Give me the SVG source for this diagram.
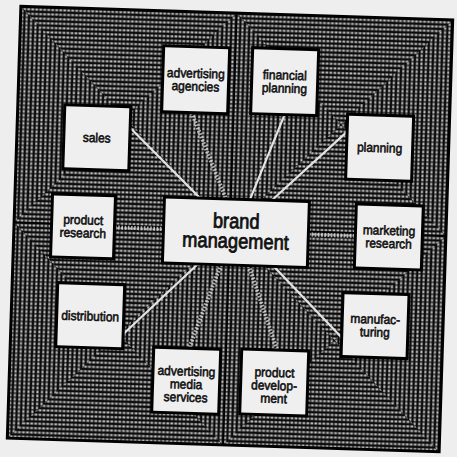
<svg xmlns="http://www.w3.org/2000/svg" width="457" height="457" viewBox="0 0 457 457">
<defs>
<pattern id="ph" width="4" height="4.5" patternUnits="userSpaceOnUse"><rect width="4" height="4.5" fill="#0c0c0c"/><rect x="0.5" y="1.2" width="2.8" height="2" fill="#c0c0c0"/></pattern>
<pattern id="pv" width="4.5" height="4" patternUnits="userSpaceOnUse"><rect width="4.5" height="4" fill="#0c0c0c"/><rect x="1.2" y="0.5" width="2" height="2.8" fill="#c0c0c0"/></pattern>
<style>
.box{fill:#efefef;stroke:#000;stroke-width:3}
.t{font-family:"Liberation Sans",Arial,sans-serif;font-size:13px;fill:#111;stroke:#111;stroke-width:0.6;text-anchor:middle}
.tb{font-family:"Liberation Sans",Arial,sans-serif;font-size:21px;fill:#111;stroke:#111;stroke-width:0.8;text-anchor:middle}
.solid{stroke:#e4e4e4;stroke-width:2.2;fill:none}
.hatch{stroke:#d8d8d8;stroke-width:4;stroke-dasharray:1.6 1.6;fill:none;opacity:0.8}
</style>
</defs>
<rect width="457" height="457" fill="#eeeeee"/>
<g transform="rotate(1.8 230 229)">
<g id="background">
<rect x="14" y="13" width="432" height="432" fill="url(#ph)"/>
<path d="M14 13 L14 229 L122 121 Z M230 13 L230 229 L122 121 Z M230 13 L230 229 L338 121 Z M446 13 L446 229 L338 121 Z M14 229 L14 445 L122 337 Z M230 229 L230 445 L122 337 Z M230 229 L230 445 L338 337 Z M446 229 L446 445 L338 337 Z" fill="url(#pv)"/>
<path d="M230 13 V445 M14 229 H446" stroke="#000" stroke-width="1.5"/>
<rect x="14" y="13" width="432" height="432" fill="none" stroke="#000" stroke-width="3"/>
</g>
<g id="connectors">
<line class="solid" x1="127" y1="131" x2="199" y2="199"/>
<line class="solid" x1="281" y1="113" x2="249" y2="199"/>
<line class="solid" x1="344" y1="128" x2="271" y2="199"/>
<line class="solid" x1="275" y1="265" x2="345" y2="334"/>
<line class="solid" x1="199" y1="265" x2="127" y2="337"/>
<line class="hatch" x1="188" y1="114" x2="225" y2="199"/>
<line class="hatch" x1="250" y1="265" x2="281" y2="349"/>
<line class="hatch" x1="222" y1="265" x2="193" y2="349"/>
<line class="hatch" x1="308.5" y1="232" x2="355.5" y2="232"/>
<line class="hatch" x1="115" y1="231" x2="163.5" y2="231"/>
</g>
<g id="sales"><rect class="box" x="61" y="110" width="66" height="64"/><text class="t" x="94" y="146.5" textLength="27.9" lengthAdjust="spacingAndGlyphs">sales</text></g>
<g id="advertising-agencies"><rect class="box" x="158" y="48" width="66" height="66"/><text class="t" x="191" y="79" textLength="57.8" lengthAdjust="spacingAndGlyphs">advertising</text><text class="t" x="191" y="92" textLength="47.9" lengthAdjust="spacingAndGlyphs">agencies</text></g>
<g id="financial-planning"><rect class="box" x="247" y="47" width="66" height="66"/><text class="t" x="280" y="78" textLength="43.9" lengthAdjust="spacingAndGlyphs">financial</text><text class="t" x="280" y="91" textLength="45.2" lengthAdjust="spacingAndGlyphs">planning</text></g>
<g id="planning"><rect class="box" x="344" y="110.5" width="66" height="65"/><text class="t" x="377" y="147.5" textLength="45.2" lengthAdjust="spacingAndGlyphs">planning</text></g>
<g id="marketing-research"><rect class="box" x="355.5" y="200" width="67" height="64"/><text class="t" x="389" y="230" textLength="52.5" lengthAdjust="spacingAndGlyphs">marketing</text><text class="t" x="389" y="243" textLength="46.5" lengthAdjust="spacingAndGlyphs">research</text></g>
<g id="manufacturing"><rect class="box" x="345" y="289" width="66" height="64"/><text class="t" x="378" y="319" textLength="49.8" lengthAdjust="spacingAndGlyphs">manufac-</text><text class="t" x="378" y="332" textLength="29.9" lengthAdjust="spacingAndGlyphs">turing</text></g>
<g id="product-development"><rect class="box" x="245.5" y="348.5" width="67" height="65"/><text class="t" x="279" y="375.5" textLength="39.9" lengthAdjust="spacingAndGlyphs">product</text><text class="t" x="279" y="388.5" textLength="45.9" lengthAdjust="spacingAndGlyphs">develop-</text><text class="t" x="279" y="401.5" textLength="26.6" lengthAdjust="spacingAndGlyphs">ment</text></g>
<g id="advertising-media-services"><rect class="box" x="157.5" y="349.5" width="67" height="65"/><text class="t" x="191" y="377" textLength="57.8" lengthAdjust="spacingAndGlyphs">advertising</text><text class="t" x="191" y="390" textLength="32.6" lengthAdjust="spacingAndGlyphs">media</text><text class="t" x="191" y="403" textLength="43.9" lengthAdjust="spacingAndGlyphs">services</text></g>
<g id="distribution"><rect class="box" x="59.5" y="288" width="67" height="64"/><text class="t" x="93" y="325" textLength="57.8" lengthAdjust="spacingAndGlyphs">distribution</text></g>
<g id="product-research"><rect class="box" x="51.5" y="199.5" width="63" height="63"/><text class="t" x="83" y="229" textLength="39.9" lengthAdjust="spacingAndGlyphs">product</text><text class="t" x="83" y="242" textLength="46.5" lengthAdjust="spacingAndGlyphs">research</text></g>
<g id="brand-management"><rect class="box" x="163.5" y="199" width="145" height="66"/><text class="tb" x="236" y="228" textLength="46.7" lengthAdjust="spacingAndGlyphs">brand</text><text class="tb" x="236" y="248" textLength="106.6" lengthAdjust="spacingAndGlyphs">management</text></g>
</g>
</svg>
